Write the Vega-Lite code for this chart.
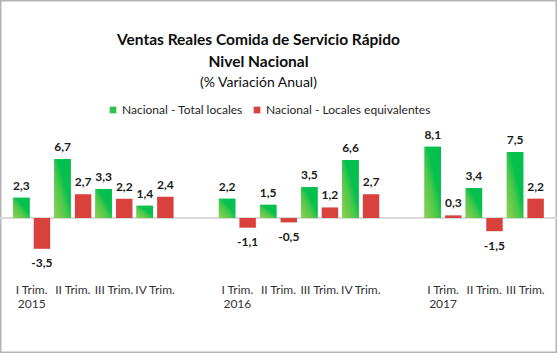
{
  "$schema": "https://vega.github.io/schema/vega-lite/v6.json",
  "width": 557,
  "height": 353,
  "autosize": {"type": "none"},
  "padding": 0,
  "background": "white",
  "config": {
    "view": {"stroke": "#b4b4b4", "strokeWidth": 3},
    "font": "Lato",
    "axisY": {"disable": true},
    "axisX": {
      "orient": "bottom",
      "offset": -69,
      "domain": false,
      "ticks": false,
      "grid": false,
      "title": null,
      "labelAngle": 0,
      "labelPadding": 0,
      "labelBaseline": "top",
      "labelFont": "Lato",
      "labelFontSize": 12,
      "labelColor": "#333333",
      "labelLineHeight": 14,
      "labelOverlap": false,
      "labelBound": false,
      "labelExpr": "indexof(datum.value, 'gap') == 0 ? '' : (split(datum.value, '-')[1] == 'I' ? ['I Trim.', split(datum.value, '-')[0]] : split(datum.value, '-')[1] + ' Trim.')"
    }
  },
  "title": {
    "text": ["Ventas Reales Comida de Servicio Rápido", "Nivel Nacional"],
    "subtitle": "(% Variación Anual)",
    "anchor": "middle",
    "frame": "group",
    "dx": -20,
    "offset": -90,
    "font": "Lato",
    "fontSize": 15.5,
    "fontWeight": "bold",
    "color": "#0d0d0d",
    "lineHeight": 22,
    "subtitleFont": "Lato",
    "subtitleFontSize": 14,
    "subtitleColor": "#0d0d0d",
    "subtitlePadding": 6
  },
  "data": {
    "values": [
      {"trimestre": "2015-I", "serie": "Nacional - Total locales", "valor": 2.3},
      {"trimestre": "2015-I", "serie": "Nacional - Locales equivalentes", "valor": -3.5},
      {"trimestre": "2015-II", "serie": "Nacional - Total locales", "valor": 6.7},
      {"trimestre": "2015-II", "serie": "Nacional - Locales equivalentes", "valor": 2.7},
      {"trimestre": "2015-III", "serie": "Nacional - Total locales", "valor": 3.3},
      {"trimestre": "2015-III", "serie": "Nacional - Locales equivalentes", "valor": 2.2},
      {"trimestre": "2015-IV", "serie": "Nacional - Total locales", "valor": 1.4},
      {"trimestre": "2015-IV", "serie": "Nacional - Locales equivalentes", "valor": 2.4},
      {"trimestre": "2016-I", "serie": "Nacional - Total locales", "valor": 2.2},
      {"trimestre": "2016-I", "serie": "Nacional - Locales equivalentes", "valor": -1.1},
      {"trimestre": "2016-II", "serie": "Nacional - Total locales", "valor": 1.5},
      {"trimestre": "2016-II", "serie": "Nacional - Locales equivalentes", "valor": -0.5},
      {"trimestre": "2016-III", "serie": "Nacional - Total locales", "valor": 3.5},
      {"trimestre": "2016-III", "serie": "Nacional - Locales equivalentes", "valor": 1.2},
      {"trimestre": "2016-IV", "serie": "Nacional - Total locales", "valor": 6.6},
      {"trimestre": "2016-IV", "serie": "Nacional - Locales equivalentes", "valor": 2.7},
      {"trimestre": "2017-I", "serie": "Nacional - Total locales", "valor": 8.1},
      {"trimestre": "2017-I", "serie": "Nacional - Locales equivalentes", "valor": 0.3},
      {"trimestre": "2017-II", "serie": "Nacional - Total locales", "valor": 3.4},
      {"trimestre": "2017-II", "serie": "Nacional - Locales equivalentes", "valor": -1.5},
      {"trimestre": "2017-III", "serie": "Nacional - Total locales", "valor": 7.5},
      {"trimestre": "2017-III", "serie": "Nacional - Locales equivalentes", "valor": 2.2}
    ]
  },
  "layer": [
    {
      "data": {"values": [{"z": 0}]},
      "mark": {"type": "rule", "color": "#d9d9d9", "strokeWidth": 2},
      "encoding": {
        "y": {"datum": 0, "type": "quantitative"}
      }
    },
    {
      "mark": {"type": "bar"},
      "encoding": {
        "x": {
          "field": "trimestre",
          "type": "nominal",
          "scale": {
            "domain": ["2015-I", "2015-II", "2015-III", "2015-IV", "gap1", "2016-I", "2016-II", "2016-III", "2016-IV", "gap2", "2017-I", "2017-II", "2017-III"],
            "paddingInner": 0,
            "paddingOuter": 0.27
          }
        },
        "xOffset": {
          "field": "serie",
          "type": "nominal",
          "scale": {"domain": ["Nacional - Total locales", "Nacional - Locales equivalentes"], "paddingInner": 0.2, "paddingOuter": 0.1}
        },
        "y": {
          "field": "valor",
          "type": "quantitative",
          "scale": {"domain": [-15.34, 24.77], "nice": false, "zero": false}
        },
        "color": {
          "field": "serie",
          "type": "nominal",
          "scale": {"domain": ["Nacional - Total locales", "Nacional - Locales equivalentes"], "range": ["#2ec44b", "#d9413c"]},
          "legend": {
            "orient": "none",
            "legendX": 107,
            "legendY": 104,
            "direction": "horizontal",
            "title": null,
            "symbolType": "square",
            "symbolSize": 45,
            "symbolStrokeWidth": 0,
            "labelFont": "Lato",
            "labelFontSize": 12,
            "labelColor": "#262626",
            "labelOffset": 3,
            "labelLimit": 400,
            "columnPadding": 8
          }
        }
      }
    },
    {
      "transform": [{"filter": "datum.serie == 'Nacional - Total locales'"}],
      "mark": {
        "type": "bar",
        "fill": {
          "gradient": "linear",
          "x1": 0, "y1": 1, "x2": 1, "y2": 0,
          "stops": [
            {"offset": 0, "color": "#92d050"},
            {"offset": 0.4, "color": "#4cc84a"},
            {"offset": 0.6, "color": "#06c04e"},
            {"offset": 1, "color": "#00c050"}
          ]
        }
      },
      "encoding": {
        "x": {"field": "trimestre", "type": "nominal"},
        "xOffset": {"field": "serie", "type": "nominal"},
        "y": {"field": "valor", "type": "quantitative"}
      }
    },
    {
      "transform": [{"filter": "datum.valor >= 0"}],
      "mark": {"type": "text", "baseline": "middle", "align": "center", "dy": -12, "font": "Lato", "fontSize": 12, "fontWeight": "bold", "color": "#1a1a1a", "text": {"expr": "replace(format(datum.valor, '.1f'), '.', ',')"}},
      "encoding": {
        "x": {"field": "trimestre", "type": "nominal"},
        "xOffset": {"field": "serie", "type": "nominal"},
        "y": {"field": "valor", "type": "quantitative"}
      }
    },
    {
      "transform": [{"filter": "datum.valor < 0"}],
      "mark": {"type": "text", "baseline": "middle", "align": "center", "dy": 14.5, "font": "Lato", "fontSize": 12, "fontWeight": "bold", "color": "#1a1a1a", "text": {"expr": "'-' + replace(format(-datum.valor, '.1f'), '.', ',')"}},
      "encoding": {
        "x": {"field": "trimestre", "type": "nominal"},
        "xOffset": {"field": "serie", "type": "nominal"},
        "y": {"field": "valor", "type": "quantitative"}
      }
    }
  ]
}
